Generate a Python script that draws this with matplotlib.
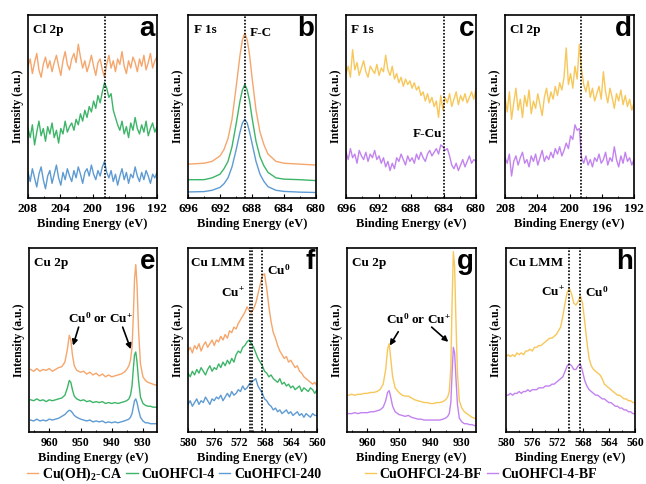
import numpy as np
import matplotlib
matplotlib.use('Agg')
import matplotlib.pyplot as plt
from matplotlib.ticker import MultipleLocator

plt.rcParams['font.family'] = ['Liberation Serif', 'DejaVu Serif']
plt.rcParams['font.weight'] = 'bold'
plt.rcParams['mathtext.fontset'] = 'custom'
plt.rcParams['mathtext.rm'] = 'Liberation Serif:bold'
plt.rcParams['mathtext.it'] = 'Liberation Serif:italic:bold'
plt.rcParams['mathtext.bf'] = 'Liberation Serif:bold'

# ---------------- colours / labels ----------------
C_OR, C_GR, C_BL = '#F5A66C', '#3DB568', '#5E9BD3'
C_YE, C_PU = '#F7C75A', '#C283F0'
labels_left = ['Cu(OH)$_2$-CA', 'CuOHFCl-4', 'CuOHFCl-240']
labels_right = ['CuOHFCl-24-BF', 'CuOHFCl-4-BF']

# ---------------- panel a : Cl 2p ----------------
x_a = np.linspace(208, 192, 60)
orange_a = [72, 76, 68, 74, 79, 70, 66, 73, 77, 71, 75, 69, 74, 78, 72, 67, 75, 80, 73, 70,
            76, 79, 74, 84, 77, 71, 75, 69, 73, 78, 72, 67, 74, 76, 70, 66, 73, 78, 71, 75,
            69, 76, 73, 80, 72, 68, 75, 71, 77, 74, 69, 76, 72, 78, 70, 74, 79, 71, 75, 77]
green_a = [38, 33, 40, 29, 36, 42, 34, 38, 31, 39, 35, 41, 33, 37, 30, 38, 35, 42, 36, 39,
           41, 37, 43, 40, 46, 42, 48, 44, 50, 47, 53, 49, 56, 52, 58, 63, 60, 55, 57, 48,
           44, 40, 37, 42, 35, 39, 33, 41, 37, 44, 38, 35, 40, 36, 42, 34, 38, 41, 36, 39]
blue_a = [14, 9, 16, 11, 6, 13, 17, 10, 5, 12, 15, 8, 13, 18, 11, 7, 14, 10, 16, 12,
          9, 15, 11, 17, 13, 8, 14, 16, 12, 18, 13, 10, 15, 12, 17, 20, 14, 11, 15, 9,
          13, 7, 12, 16, 10, 14, 8, 13, 11, 17, 12, 9, 14, 10, 15, 12, 8, 13, 11, 14]

# ---------------- panel b : F 1s ----------------
x_b = [696, 694, 693, 692, 691.5, 691, 690.5, 690, 689.5, 689.2, 688.9, 688.6, 688.3, 688,
       687.5, 687, 686.5, 686, 685, 684, 682, 680]
orange_b = [18.5, 19, 20, 23, 26.5, 32.5, 43, 60, 78, 86.5, 90, 86.5, 78, 66, 48, 36, 29, 24,
            20, 19, 18.5, 18]
green_b = [10, 10, 11, 13, 16, 20, 28, 40, 53, 59, 62, 59, 53, 44, 31, 22.5, 17.5, 14, 11,
           10.3, 10, 9.5]
blue_b = [3.3, 3.5, 4.2, 5.8, 7.8, 11, 17, 26, 36, 41, 43, 41, 36, 30, 20, 13, 9, 6.2, 4.2,
          3.6, 3.2, 3]

# ---------------- panel c : F 1s (BF) ----------------
x_c = np.linspace(696, 680, 60)
yellow_c = [68, 72, 66, 81, 70, 74, 67, 71, 75, 69, 66, 72, 70, 68, 73, 67, 71, 69, 78, 70,
            67, 72, 65, 68, 63, 66, 61, 65, 62, 64, 60, 63, 59, 61, 56, 58, 53, 57, 52, 55,
            50, 53, 44, 56, 48, 55, 52, 57, 50, 54, 58, 51, 56, 53, 57, 52, 55, 58, 54, 60]
purple_c = [25, 21, 27, 22, 24, 19, 26, 23, 21, 25, 20, 24, 22, 26, 21, 23, 19, 22, 17, 20,
            15, 19, 16, 22, 20, 24, 21, 18, 23, 20, 22, 19, 24, 21, 25, 22, 20, 24, 26, 23,
            25, 27, 24, 29, 28, 26, 27, 23, 18, 16, 19, 15, 18, 21, 17, 20, 23, 19, 21, 20]

# ---------------- panel d : Cl 2p (BF) ----------------
x_d = np.linspace(208, 192, 60)
yellow_d = [55, 47, 58, 43, 52, 60, 48, 54, 44, 56, 50, 59, 46, 53, 49, 57, 51, 45, 55, 60,
            52, 58, 54, 61, 56, 63, 59, 66, 82, 62, 68, 60, 72, 65, 84, 70, 62, 58, 64, 55,
            60, 53, 57, 61, 54, 69, 58, 52, 60, 55, 49, 57, 53, 59, 51, 56, 50, 54, 48, 52]
purple_d = [22, 19, 24, 12, 20, 23, 18, 22, 25, 19, 21, 17, 23, 20, 24, 18, 22, 26, 20, 23,
            21, 25, 22, 27, 24, 28, 23, 26, 30, 27, 34, 32, 40, 37, 38, 22, 19, 23, 18, 21,
            17, 22, 20, 24, 19, 21, 25, 18, 22, 20, 28, 21, 17, 23, 19, 25, 20, 22, 18, 21]

# ---------------- panels e / g : Cu 2p ----------------
x_cu2p = [966, 965, 964, 963, 962, 961, 960, 959, 958, 957, 956, 955, 954.2, 953.6, 953.1,
          952.6, 952, 951.2, 950, 949, 948, 947, 946, 945, 944, 943, 942, 941, 940, 939,
          938, 937, 936, 935.2, 934.5, 934, 933.5, 933.1, 932.7, 932.3, 931.9, 931.4, 930.8,
          930, 929.2, 928.4, 927.6, 926.8, 926, 925.5]
orange_e = [34, 33, 34.5, 33, 34, 33.5, 34.5, 33, 34, 35, 35.5, 38, 45, 52.5, 50, 42, 36, 33.5,
            32.5, 33, 31.5, 32.5, 31, 32, 30.5, 31.5, 30, 31, 30, 30.5, 31, 31.5, 32.5, 34, 36,
            39, 46, 62, 83, 91, 80, 55, 37, 30, 28, 27, 26.5, 26, 25.5, 25.5]
green_e = [17.5, 17, 18, 17, 17.5, 16.5, 17.5, 17, 17.5, 18, 18.5, 20, 24, 28, 27, 23, 19.5,
           18, 17, 17.5, 16.5, 17, 16, 16.5, 16, 16.5, 15.5, 16, 15.5, 16, 15.5, 16, 16.5, 17,
           18, 20, 25, 34, 42, 43.5, 38, 28, 19, 15.5, 14.5, 14, 14, 13.5, 13.5, 13.5]
blue_e = [6.5, 6, 7, 6, 6.5, 6, 7, 6.5, 7, 7.5, 8.5, 9.5, 11, 11.8, 11.5, 10.5, 9, 8, 7, 6.5,
          6, 6.5, 5.5, 6, 5.5, 6, 5, 5.5, 5, 5.5, 5, 5.5, 6, 6.5, 7, 8, 10, 13.5, 17, 18, 16,
          12, 8, 6, 5, 5, 4.5, 4.5, 4.5, 4.5]
yellow_g = [20, 20.5, 20, 20.5, 20.5, 21, 21, 21.5, 21.5, 22, 23, 26, 34, 45, 48, 40, 30, 24,
            21.5, 20, 19.5, 19.5, 18.5, 17.5, 17, 16.5, 16, 16, 15.5, 15.5, 16, 16, 16.5,
            17.5, 19, 22, 35, 70, 98, 90, 62, 32, 17, 13, 11, 10, 9, 8, 7.5, 7]
purple_g = [10, 10, 10.5, 10, 10.5, 10.5, 10.5, 11, 11, 11.5, 12, 13.5, 17, 21.5, 22.5, 19,
            14, 11, 9.5, 9, 8.5, 9, 8, 7.5, 7, 7, 6.5, 6.5, 6.5, 6.5, 6.5, 6.5, 7, 7.5, 8.5,
            10, 16, 32, 46, 43, 30, 15, 7.5, 5.5, 4.5, 4.5, 4, 4, 3.5, 3.5]

# ---------------- panels f / h : Cu LMM ----------------
x_lmm = np.linspace(580, 560, 60)
orange_f = [44, 46, 43, 47, 45, 48, 44, 47, 49, 46, 48, 50, 47, 50, 49, 52, 50, 53, 51, 55,
            54, 57, 56, 59, 61, 63, 65, 68, 66, 65, 67, 70, 75, 80, 85, 86, 78, 68, 60, 54,
            51, 47, 44, 42, 40, 41, 38, 39, 37, 35, 36, 33, 32, 30, 29, 28, 27, 26, 27, 25]
green_f = [32, 30, 33, 31, 34, 32, 35, 33, 31, 34, 36, 33, 35, 34, 37, 35, 38, 36, 39, 37,
           40, 38, 42, 44, 43, 46, 47, 49, 50, 48, 46, 43, 40, 38, 36, 33, 32, 30, 31, 29,
           28, 27, 29, 26, 27, 25, 26, 24, 25, 23, 24, 25, 22, 24, 23, 22, 24, 23, 21, 23]
blue_f = [15, 17, 14, 16, 18, 15, 17, 16, 19, 17, 15, 18, 17, 19, 18, 20, 17, 19, 21, 19,
          22, 20, 21, 23, 22, 25, 23, 24, 26, 27, 28, 29, 25, 23, 21, 18, 17, 15, 14, 12,
          13, 11, 12, 10, 11, 12, 10, 11, 9, 10, 11, 9, 10, 8, 10, 9, 8, 10, 9, 9]
yellow_h = [41, 42, 41, 42, 41, 43, 42, 43, 42, 44, 44, 45, 44, 46, 46, 47, 47, 48, 49, 50,
            51, 51, 52, 53, 55, 57, 63, 70, 76, 78, 75, 70, 69, 71, 74, 70, 60, 49, 40, 36,
            34, 33, 32, 31, 29, 26, 25, 24, 23, 22, 21, 20, 20, 19, 18, 18, 17, 17, 16, 16]
purple_h = [20, 20, 21, 20, 21, 21, 22, 21, 22, 22, 23, 22, 23, 23, 23, 24, 24, 24, 25, 25,
            25, 26, 26, 27, 28, 29, 30, 33, 36, 37, 36, 34, 34, 36, 37, 33, 28, 25, 23, 22,
            21, 20, 20, 19, 18, 18, 17, 16, 16, 15, 14, 14, 13, 13, 12, 12, 11, 11, 10, 10]

# ---------------- figure ----------------
W, H = 646, 484
fig = plt.figure(figsize=(W / 100, H / 100), dpi=100)


def make_ax(l, r, t, b):
    return fig.add_axes([l / W, 1 - b / H, (r - l) / W, (b - t) / H])


ax_a = make_ax(28, 157, 15, 198)
ax_b = make_ax(188, 316, 15, 198)
ax_c = make_ax(346, 476, 15, 198)
ax_d = make_ax(505, 634, 15, 198)
ax_e = make_ax(29, 157, 248, 432)
ax_f = make_ax(188, 317, 248, 432)
ax_g = make_ax(347, 476, 248, 432)
ax_h = make_ax(506, 635, 248, 432)

TXT = dict(fontsize=9.5, fontweight='bold')
LW = 1.0


def style(ax, xlim, major, minor, title, letter, title_x=0.04, tsize=9.5):
    ax.set_xlim(*xlim)
    ax.set_ylim(0, 100)
    ax.xaxis.set_major_locator(MultipleLocator(major))
    ax.xaxis.set_minor_locator(MultipleLocator(minor))
    ax.set_yticks([])
    ax.tick_params(axis='x', which='major', direction='in', length=3, width=0.8,
                   labelsize=tsize, pad=3.5)
    ax.tick_params(axis='x', which='minor', direction='in', length=1.5, width=0.6)
    for lab in ax.get_xticklabels():
        lab.set_fontweight('bold')
    for s in ax.spines.values():
        s.set_linewidth(1.2)
    ax.set_xlabel('Binding Energy (eV)', fontsize=9, fontweight='bold', labelpad=2)
    ax.set_ylabel('Intensity (a.u.)', fontsize=8.5, fontweight='bold', labelpad=3)
    ax.text(title_x, 0.92, title, transform=ax.transAxes, ha='left', va='center', **TXT)
    ax.text(0.985, 0.925, letter, transform=ax.transAxes, ha='right', va='center',
            fontsize=20, fontweight='bold', family='Liberation Sans')


def vline(ax, x, lw=1.2):
    ax.axvline(x, color='black', ls=(0, (1, 1)), lw=lw, zorder=3)


# a
la1, = ax_a.plot(x_a, orange_a, color=C_OR, lw=LW)
la2, = ax_a.plot(x_a, green_a, color=C_GR, lw=LW)
la3, = ax_a.plot(x_a, blue_a, color=C_BL, lw=LW)
vline(ax_a, 198.5)
style(ax_a, (208, 192), 4, 2, 'Cl 2p', 'a')

# b
ax_b.plot(x_b, orange_b, color=C_OR, lw=LW)
ax_b.plot(x_b, green_b, color=C_GR, lw=LW)
ax_b.plot(x_b, blue_b, color=C_BL, lw=LW)
vline(ax_b, 688.9)
style(ax_b, (696, 680), 4, 2, 'F 1s', 'b', title_x=0.05)
ax_b.text(688.3, 90, 'F-C', ha='left', va='center', **TXT)

# c
lc1, = ax_c.plot(x_c, yellow_c, color=C_YE, lw=LW)
lc2, = ax_c.plot(x_c, purple_c, color=C_PU, lw=LW)
vline(ax_c, 684)
style(ax_c, (696, 680), 4, 2, 'F 1s', 'c')
ax_c.text(684.2, 35, 'F-Cu', ha='right', va='center', **TXT)

# d
ax_d.plot(x_d, yellow_d, color=C_YE, lw=LW)
ax_d.plot(x_d, purple_d, color=C_PU, lw=LW)
vline(ax_d, 198.6)
style(ax_d, (208, 192), 4, 2, 'Cl 2p', 'd')

# e
ax_e.plot(x_cu2p, orange_e, color=C_OR, lw=LW)
ax_e.plot(x_cu2p, green_e, color=C_GR, lw=LW)
ax_e.plot(x_cu2p, blue_e, color=C_BL, lw=LW)
style(ax_e, (966.5, 925.5), 10, 5, 'Cu 2p', 'e', tsize=8.5)
ax_e.text(943.7, 62, r'Cu$^{0}$ or Cu$^{+}$', ha='center', va='center', **TXT)
arr = dict(arrowstyle='-|>', color='black', lw=1.2, mutation_scale=8, shrinkA=0, shrinkB=0)
ax_e.annotate('', xy=(952.4, 47), xytext=(950.6, 57), arrowprops=arr)
ax_e.annotate('', xy=(933.9, 45), xytext=(936.5, 57), arrowprops=arr)

# f
ax_f.plot(x_lmm, orange_f, color=C_OR, lw=LW)
ax_f.plot(x_lmm, green_f, color=C_GR, lw=LW)
ax_f.plot(x_lmm, blue_f, color=C_BL, lw=LW)
vline(ax_f, 570.45)
vline(ax_f, 570.15)
vline(ax_f, 568.5)
style(ax_f, (580, 560), 4, 2, 'Cu LMM', 'f', title_x=0.02, tsize=8.5)
ax_f.text(571.2, 75.5, r'Cu$^{+}$', ha='right', va='center', **TXT)
ax_f.text(567.7, 88, r'Cu$^{0}$', ha='left', va='center', **TXT)

# g
ax_g.plot(x_cu2p, yellow_g, color=C_YE, lw=LW)
ax_g.plot(x_cu2p, purple_g, color=C_PU, lw=LW)
style(ax_g, (966.5, 925.5), 10, 5, 'Cu 2p', 'g', tsize=8.5)
ax_g.text(943.8, 61, r'Cu$^{0}$ or Cu$^{+}$', ha='center', va='center', **TXT)
ax_g.annotate('', xy=(952.9, 47), xytext=(950.2, 54.5), arrowprops=arr)
ax_g.annotate('', xy=(934.3, 49), xytext=(939.6, 57), arrowprops=arr)

# h
ax_h.plot(x_lmm, yellow_h, color=C_YE, lw=LW)
ax_h.plot(x_lmm, purple_h, color=C_PU, lw=LW)
vline(ax_h, 570.3)
vline(ax_h, 568.5)
style(ax_h, (580, 560), 4, 2, 'Cu LMM', 'h', title_x=0.02, tsize=8.5)
ax_h.text(570.85, 76, r'Cu$^{+}$', ha='right', va='center', **TXT)
ax_h.text(567.75, 76, r'Cu$^{0}$', ha='left', va='center', **TXT)

# legends
leg_kw = dict(frameon=False, handlelength=0.8, handletextpad=0.3,
              columnspacing=0.3, borderpad=0, borderaxespad=0,
              prop={'weight': 'bold', 'size': 10})
fig.legend([la1, la2, la3], labels_left, ncol=3, loc='center',
           bbox_to_anchor=(174 / W, 1 - 474 / H), **leg_kw)
fig.legend([lc1, lc2], labels_right, ncol=2, loc='center',
           bbox_to_anchor=(481 / W, 1 - 474 / H), **leg_kw)

fig.savefig('out.png', dpi=100)
